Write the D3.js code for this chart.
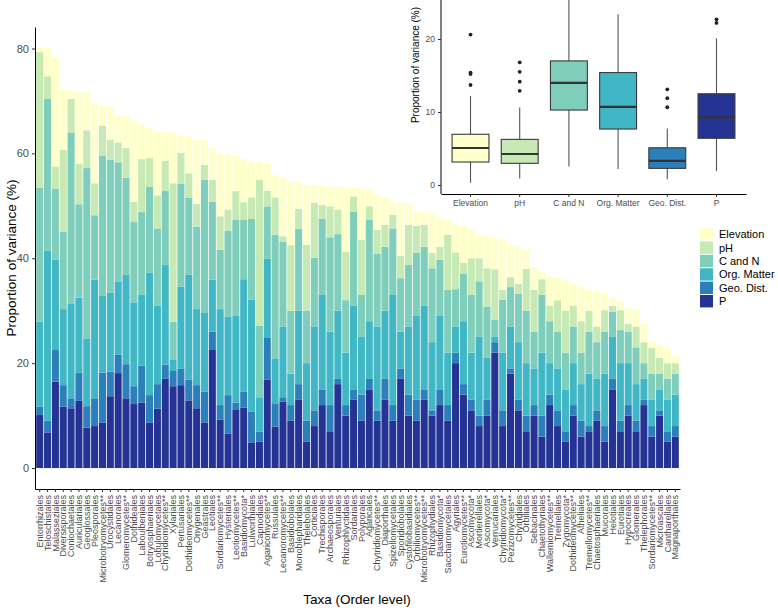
<!DOCTYPE html>
<html><head><meta charset="utf-8">
<script src="https://cdn.jsdelivr.net/npm/d3@7"></script>
<style>body{margin:0;background:#fff}svg{display:block;font-family:"Liberation Sans",Arial,Helvetica,sans-serif}</style>
</head><body><svg id="c" width="778" height="611"></svg>
<script>
const taxa = ["Entorrhizales","Teloschistales","Malasseziales","Diversisporales","Coniochaetales","Auriculariales","Geoglossales","Pleosporales","Microbotryomycetes**","Urocystidales","Lecanorales","Glomeromycetes**","Dothideales","Laboulbeniales","Botryosphaeriales","Lobulomycetales","Chytridiomycetes**","Xylariales","Pertusariales","Dothideomycetes**","Onygenales","Geastrales","Leotiales","Sordariomycetes**","Hysteriales","Leotiomycetes**","Basidiomycota*","Lulworthiales","Capnodiales","Agaricomycetes**","Russulales","Lecanoromycetes**","Basidiobolales","Monoblepharidales","Thelebolales","Corticiales","Trechisporales","Archaeosporales","Venturiales","Rhizophlyctidales","Sordariales","Polyporales","Agaricales","Chytridiomycetes**","Diaporthales","Spizellomycetales","Sporidiobolales","Cystofilobasidiales","Orbiliomycetes**","Microbotryomycetes**","Rhizophydiales","Basidiomycota*","Saccharomycetales","Agyriales","Eurotiomycetes**","Ascomycota*","Mortierellales","Ascomycota*","Verrucariales","Chytridiomycota*","Pezizomycetes**","Chytridiales","Orbiliales","Sebacinales","Chaetothyriales","Wallemiomycetes**","Tremellales","Zygomycota*","Dothideomycetes**","Atheliales","Tremellomycetes**","Chaetosphaeriales","Mucorales","Helotiales","Eurotiales","Hypocreales","Glomerales","Thelephorales","Sordariomycetes**","Microascales","Cantharellales","Magnaporthales"];

const P    = [10.1,6.8,16.5,11.7,11.4,12.8,7.7,8.0,8.7,13.7,18.1,13.3,12.2,12.5,8.7,11.3,17.0,15.6,15.8,12.9,11.4,8.7,22.5,9.2,6.6,11.2,11.5,4.9,5.0,16.9,7.9,12.7,9.0,13,5,8,12,7,16,10,13,9,15,9,13,9,17,10,9,13,10,12,9,20,14,11,8,10,22,8,18,11,7,10,6,12,8,5,10,6,7,9,5,15,7,10,7,12,6,10,5,6];
const Geo  = [1.6,2.2,6.0,4.1,1.9,5.3,4.1,5.3,9.5,4.7,3.5,6.5,3.4,7.0,5.2,4.7,2.7,2.9,3.1,4.0,4.4,5.9,3.5,2.8,7.3,1.3,3.1,5.9,1.9,7.9,4.3,0.8,3.0,3,4,3,3,5,1,2,2,5,2,2,4,3,2,4,4,2,1,3,3,2,2,2,2,3,2,3,1,2,3,2,4,2,3,2,2,3,1,2,3,2,2,2,2,1,2,1,2,2];
const Org  = [16.2,32.4,17.2,14.5,18.1,14.4,12.8,22.6,14.6,15.1,14.0,17.0,16.0,13.5,23.4,15.0,19.0,2.1,15.7,20.0,14.5,15.1,9.9,18.3,15.0,16.5,21.4,21.3,6.6,15.1,8.6,13.5,6.0,14,11,16,18,14,13,10,16,11,11,16,13,21,7,13,16,16,13,14,10,5,12,9,15,8,1,11,8,11,10,7,12,6,8,8,8,7,10,6,10,8,11,8,7,4,5,4,6,6];
const CN   = [25.6,29.0,13.6,14.8,32.6,17.8,32.6,12.3,26.7,25.3,22.7,18.6,15.3,15.8,16.3,14.7,14.2,7.3,19.6,14.7,15.7,25.3,14.9,11.3,16.3,18.3,11.4,15.4,13.6,10.0,23.7,16.2,12.0,15.6,10,13.1,14.5,18,14.6,10,17.9,8,19.3,13.9,12.2,12.7,10.2,11.7,12,11.2,14.1,10.7,12,7.1,9,11,10.6,9.8,3.3,10.1,7.5,9.2,10,7,11,8,7,7,7,6,8,7,8,4.8,6.3,6,7,3,5,3,4,4];
const pH   = [25.8,4.3,4.2,15.6,6.4,7.7,7.2,6.1,5.8,3.8,3.8,5.6,3.9,10.1,5.5,6.3,5.7,26.4,5.9,4.6,4.4,2.8,4.2,6.4,4.1,5.5,3.3,4.1,27.9,3.0,7.1,1.0,12.5,3.8,12.6,10.5,2.7,5.9,4.7,9.2,2.9,10.5,2.6,4.5,4.2,2.6,4.3,7.7,5.2,4.2,2.9,2.5,10.5,7,2.1,7,4.4,7.3,9.6,1.9,1.9,1.9,8,8,3,3,6,8,4,6,4,3,4.1,1.1,3.8,1.5,4,4,4.9,3,3,2];
const Elev = [0.8,5.3,20.7,11.4,1.5,13.8,7.3,15.3,3.8,6.2,5.1,6.1,15.5,6.6,5.7,12.1,5.4,9.7,3.3,7.0,12.2,4.8,6.0,11.9,10.6,6.7,8.2,6.7,3.3,5.1,4.2,11.2,12.2,5.2,11.3,3.3,3.6,3.7,4.3,12.3,1.6,9.8,3.3,6.7,5.1,2.5,10.2,4.1,2.8,2.5,7.6,5.5,2.8,5.3,7,5.6,4.5,6.2,6.1,9.7,6.2,7.1,3.6,4.3,1.5,5.5,4.3,6,4,6.6,4,6.6,3.1,1.5,1.8,3,3.3,3.5,1.2,2.5,3,1.3];

const legendNames = ["Elevation","pH","C and N","Org. Matter","Geo. Dist.","P"];
const palette = ["#ffffcc","#c7e9b4","#7fcdbb","#41b6c4","#2c7fb8","#253494"];

// inset boxplot summary (Proportion of variance, %)
const boxLow    = [0.3, 0.9, 2.55, 2.2, 0.8, 1.9];
const boxQ1     = [3.15, 2.97, 10.27, 7.67, 2.28, 6.4];
const boxMedian = [5.07, 4.25, 14.0, 10.7, 3.3, 9.27];
const boxQ3     = [6.95, 6.25, 17.0, 15.4, 5.1, 12.5];
const boxHigh   = [12.2, 10.6, 27.5, 23.4, 7.75, 20.1];
const boxOutliers = [[20.6,15.4,15.2,13.7],[16.8,15.5,14.15,12.9],[],[],[13.1,11.9,10.65],[22.7,22.2]];

const svg = d3.select("#c");
const keys = ["P","Geo","Org","CN","pH","Elev"];
const keyColor = {Elev:palette[0],pH:palette[1],CN:palette[2],Org:palette[3],Geo:palette[4],P:palette[5]};
const rows = taxa.map((t,i)=>({id:i,taxon:t,P:P[i],Geo:Geo[i],Org:Org[i],CN:CN[i],pH:pH[i],Elev:Elev[i]}));

const x = d3.scaleBand().domain(rows.map(d=>d.id)).range([35,680]).paddingInner(0.1).paddingOuter(0.15);
const y = d3.scaleLinear().domain([-4.0,84.1]).range([489,27]);

const stacked = d3.stack().keys(keys)(rows);
svg.append("g").selectAll("g").data(stacked).join("g")
  .attr("fill",s=>keyColor[s.key])
  .selectAll("rect").data(s=>s).join("rect")
  .attr("x",d=>x(d.data.id)).attr("width",x.bandwidth())
  .attr("y",d=>y(d[1])).attr("height",d=>Math.max(0,y(d[0])-y(d[1])));

const tickCol = "#4d4d4d";
const gy = svg.append("g").attr("transform","translate(35,0)")
  .call(d3.axisLeft(y).tickValues([0,20,40,60,80]).tickSize(3).tickSizeOuter(0).tickPadding(3));
const gx = svg.append("g").attr("transform","translate(0,489)")
  .call(d3.axisBottom(x).tickSize(3).tickSizeOuter(0).tickFormat(i=>taxa[i]));
[gy,gx].forEach(g=>{g.select(".domain").attr("stroke","#000").attr("stroke-width",1);
  g.selectAll(".tick line").attr("stroke","#333");
  g.selectAll("text").attr("fill",tickCol).attr("font-family","Liberation Sans, Arial, sans-serif");});
gy.selectAll("text").attr("font-size",11);
gx.selectAll("text").attr("font-size",9).attr("transform","rotate(-90)")
  .attr("x",-6).attr("y",0).attr("dy","0.35em").attr("text-anchor","end");

svg.append("text").attr("transform","translate(16,258) rotate(-90)").attr("text-anchor","middle")
  .attr("font-size",13.5).attr("fill","#000").text("Proportion of variance (%)");
svg.append("text").attr("x",357).attr("y",604).attr("text-anchor","middle")
  .attr("font-size",13.5).attr("fill","#000").text("Taxa (Order level)");

// legend
const lg = svg.append("g").attr("transform","translate(700,228)");
legendNames.forEach((n,i)=>{
  lg.append("rect").attr("x",0).attr("y",i*13.4).attr("width",13).attr("height",12.4).attr("fill",palette[i]);
  lg.append("text").attr("x",19).attr("y",i*13.4+6.4).attr("dy","0.35em").attr("font-size",11).attr("fill","#000").text(n);
});

// inset
const xb = d3.scaleBand().domain(legendNames).range([441,746]).paddingInner(0.25).paddingOuter(0.225);
const yb = d3.scaleLinear().domain([0,20]).range([185,39]);
const ins = svg.append("g");
legendNames.forEach((n,i)=>{
  const cx = xb(n)+xb.bandwidth()/2;
  ins.append("line").attr("x1",cx).attr("x2",cx).attr("y1",yb(boxLow[i])).attr("y2",yb(boxQ1[i])).attr("stroke","#555").attr("stroke-width",1.1);
  ins.append("line").attr("x1",cx).attr("x2",cx).attr("y1",yb(boxQ3[i])).attr("y2",Math.max(0,yb(boxHigh[i]))).attr("stroke","#555").attr("stroke-width",1.1);
  ins.append("rect").attr("x",xb(n)).attr("width",xb.bandwidth()).attr("y",yb(boxQ3[i])).attr("height",yb(boxQ1[i])-yb(boxQ3[i]))
    .attr("fill",palette[i]).attr("stroke","#3a3a3a").attr("stroke-width",1.1);
  ins.append("line").attr("x1",xb(n)).attr("x2",xb(n)+xb.bandwidth()).attr("y1",yb(boxMedian[i])).attr("y2",yb(boxMedian[i])).attr("stroke","#333").attr("stroke-width",2.2);
  boxOutliers[i].forEach(v=>ins.append("circle").attr("cx",cx).attr("cy",yb(v)).attr("r",1.9).attr("fill","#222"));
});
const iy = ins.append("g").attr("transform","translate(441,0)")
  .call(d3.axisLeft(yb).tickValues([0,10,20]).tickSize(3).tickSizeOuter(0).tickPadding(3));
iy.select(".domain").attr("d","M0,194V0").attr("stroke","#000");
const ix = ins.append("g").attr("transform","translate(0,194)")
  .call(d3.axisBottom(xb).tickSize(3).tickSizeOuter(0).tickPadding(3));
ix.select(".domain").attr("stroke","#000");
[iy,ix].forEach(g=>{g.selectAll(".tick line").attr("stroke","#333");
  g.selectAll("text").attr("fill",tickCol).attr("font-size",8.5).attr("font-family","Liberation Sans, Arial, sans-serif");});
ins.append("text").attr("transform","translate(419,65) rotate(-90)").attr("text-anchor","middle")
  .attr("font-size",10).attr("fill","#000").text("Proportion of variance (%)");
</script></body></html>
